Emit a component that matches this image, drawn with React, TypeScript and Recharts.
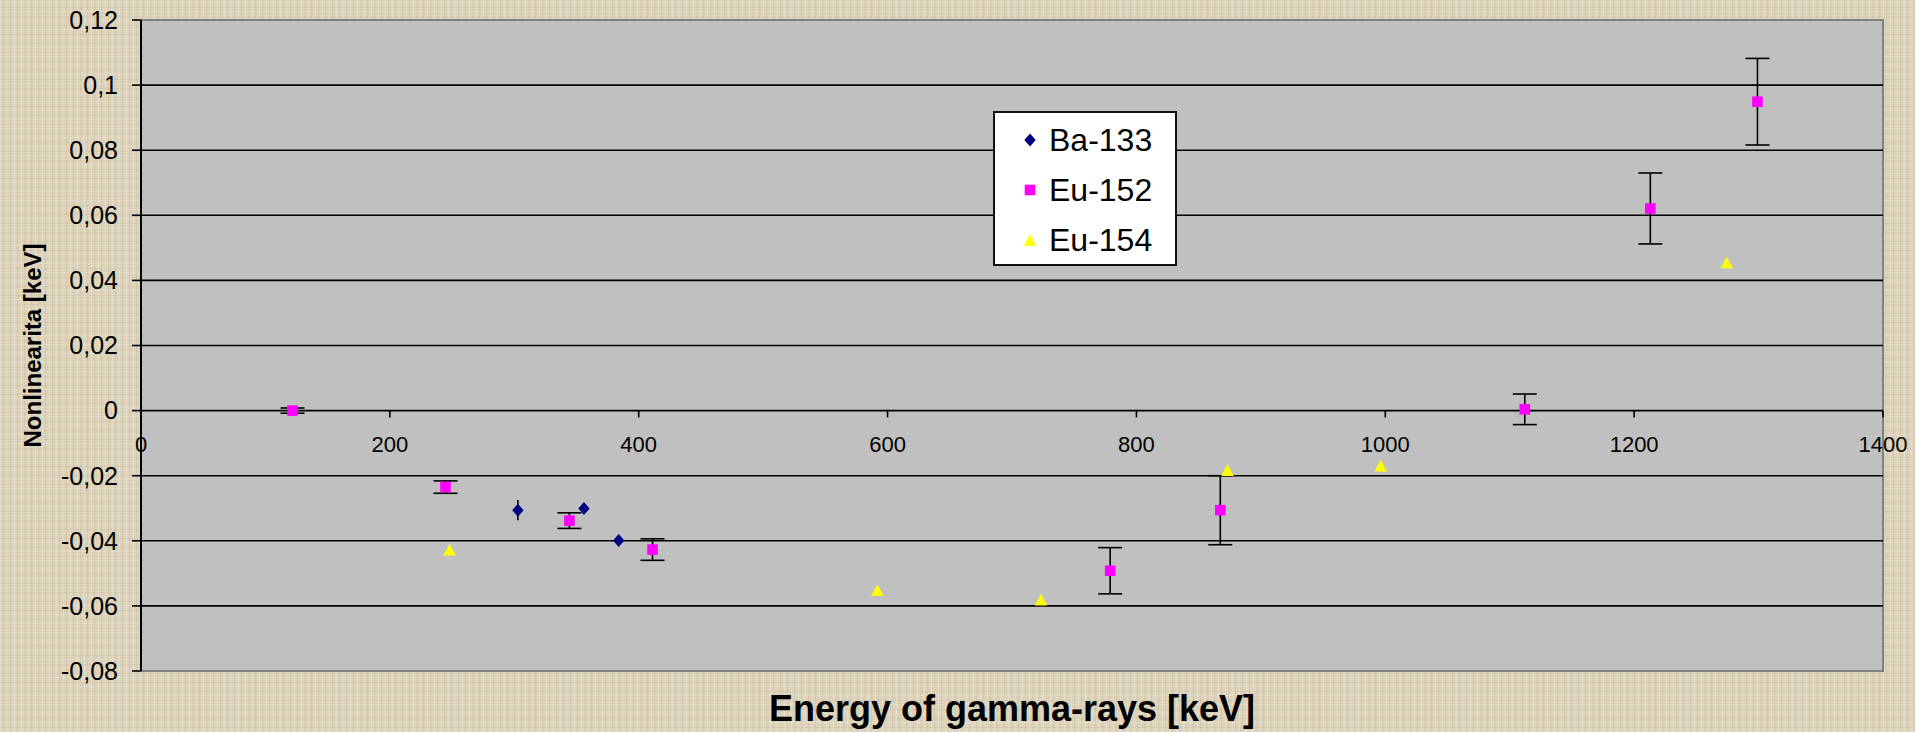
import React from "react";
import {
  ScatterChart,
  Scatter,
  XAxis,
  YAxis,
  ReferenceLine,
  ReferenceDot,
  ReferenceArea,
  ErrorBar,
  Legend,
} from "recharts";

const FONT = '"Liberation Sans", Arial, sans-serif';

const X_TICKS = [0, 200, 400, 600, 800, 1000, 1200, 1400];
const Y_TICKS = [-0.08, -0.06, -0.04, -0.02, 0, 0.02, 0.04, 0.06, 0.08, 0.1, 0.12];

// values (keV)
const BA133_ENERGY = [302.9, 356.0, 383.9];
const BA133_NONLIN = [-0.0306, -0.0301, -0.0399];
const BA133_ERR = [0.0031, 0, 0];

const EU152_ENERGY = [121.8, 244.7, 344.3, 411.1, 778.9, 867.4, 1112.1, 1213.0, 1299.1];
const EU152_NONLIN = [0, -0.0235, -0.0338, -0.0427, -0.0492, -0.0306, 0.0004, 0.0621, 0.0949];
const EU152_ERR = [0.0008, 0.0019, 0.0024, 0.0033, 0.0071, 0.0106, 0.0047, 0.0109, 0.0133];

const EU154_ENERGY = [248.0, 591.8, 723.3, 873.2, 996.3, 1274.4];
const EU154_NONLIN = [-0.0427, -0.0552, -0.0581, -0.0183, -0.0169, 0.0455];

const toRows = (xs: number[], ys: number[], es?: number[]) =>
  xs.map((x, i) => ({ energy: x, nonlin: ys[i], err: es ? es[i] : 0 }));

const ba133 = toRows(BA133_ENERGY, BA133_NONLIN, BA133_ERR);
const eu152 = toRows(EU152_ENERGY, EU152_NONLIN, EU152_ERR);
const eu154 = toRows(EU154_ENERGY, EU154_NONLIN);

const fmtY = (v: number) => String(Math.round(v * 100) / 100).replace(".", ",");

// excel-like markers
const Diamond = (p: any) => (
  <path
    d={`M${p.cx},${p.cy - 6.5}L${p.cx + 5.7},${p.cy}L${p.cx},${p.cy + 6.5}L${p.cx - 5.7},${p.cy}Z`}
    fill="#000080"
  />
);
const Square = (p: any) => (
  <rect x={p.cx - 5.3} y={p.cy - 5.3} width={10.6} height={10.6} fill="#ff00ff" />
);
const Triangle = (p: any) => (
  <path
    d={`M${p.cx},${p.cy - 5.8}L${p.cx + 6.3},${p.cy + 5.8}L${p.cx - 6.3},${p.cy + 5.8}Z`}
    fill="#ffff00"
  />
);

const LEGEND_ITEMS = [
  { name: "Ba-133", Shape: Diamond },
  { name: "Eu-152", Shape: Square },
  { name: "Eu-154", Shape: Triangle },
];

function LegendBox() {
  return (
    <div
      style={{
        boxSizing: "border-box",
        width: "100%",
        height: "100%",
        background: "#fff",
        border: "2px solid #111",
        paddingTop: 2,
        fontFamily: FONT,
        fontSize: 32,
        color: "#000",
      }}
    >
      {LEGEND_ITEMS.map(({ name, Shape }) => (
        <div key={name} style={{ display: "flex", alignItems: "center", height: 50, paddingLeft: 28, lineHeight: 1 }}>
          <svg width={14} height={14} style={{ marginRight: 12 }}>
            <Shape cx={7} cy={7} />
          </svg>
          <span>{name}</span>
        </div>
      ))}
    </div>
  );
}

export default function App() {
  return (
    <div
      style={{
        position: "absolute",
        left: 0,
        top: 0,
        width: 1915,
        height: 732,
        backgroundColor: "#ddd3ba",
        backgroundImage:
          "repeating-linear-gradient(90deg, rgba(255,255,255,0.2) 0 1px, transparent 1px 3px, rgba(110,90,50,0.08) 3px 4px, transparent 4px 7px), repeating-linear-gradient(0deg, rgba(255,255,255,0.16) 0 1px, transparent 1px 4px, rgba(110,90,50,0.07) 4px 5px, transparent 5px 9px)",
      }}
    >
      <ScatterChart width={1915} height={732} margin={{ top: 20, right: 32, bottom: 0, left: 0 }}>
        <ReferenceArea
          x1={0}
          x2={1400}
          y1={-0.08}
          y2={0.12}
          fill="#c0c0c0"
          fillOpacity={1}
          stroke="#808080"
          strokeWidth={2}
        />
        {Y_TICKS.slice(1, -1).map((v) => (
          <ReferenceLine key={`g${v}`} y={v} stroke="#000" strokeWidth={1.6} />
        ))}
        {X_TICKS.map((v) => (
          <ReferenceLine
            key={`t${v}`}
            segment={[
              { x: v, y: 0 },
              { x: v, y: -0.0021 },
            ]}
            stroke="#000"
            strokeWidth={1.6}
          />
        ))}
        {X_TICKS.map((v) => (
          <ReferenceDot
            key={`l${v}`}
            x={v}
            y={0}
            r={0}
            stroke="none"
            fill="none"
            label={{ value: String(v), position: "bottom", offset: 26, fill: "#000", fontSize: 22, fontFamily: FONT }}
          />
        ))}
        <XAxis
          type="number"
          dataKey="energy"
          domain={[0, 1400]}
          ticks={X_TICKS}
          allowDataOverflow
          height={61}
          tick={false}
          tickLine={false}
          axisLine={false}
          label={{
            content: (props: any) => {
              const vb = props.viewBox;
              return (
                <text
                  x={vb.x + vb.width / 2}
                  y={vb.y + 50}
                  textAnchor="middle"
                  fontFamily={FONT}
                  fontWeight="bold"
                  fontSize={36}
                  fill="#000"
                >
                  Energy of gamma-rays [keV]
                </text>
              );
            },
          }}
        />
        <YAxis
          type="number"
          dataKey="nonlin"
          domain={[-0.08, 0.12]}
          ticks={Y_TICKS}
          interval={0}
          allowDataOverflow
          tickFormatter={fmtY}
          width={141}
          axisLine={{ stroke: "#000", strokeWidth: 2 }}
          tickLine={{ stroke: "#000", strokeWidth: 1.6 }}
          tickSize={9}
          tickMargin={14}
          tick={{ fill: "#000", fontSize: 25, fontFamily: FONT }}
          label={{
            content: (props: any) => {
              const vb = props.viewBox;
              const cx = vb.x + 32;
              const cy = vb.y + vb.height / 2;
              return (
                <text
                  x={cx}
                  y={cy}
                  transform={`rotate(-90 ${cx} ${cy})`}
                  textAnchor="middle"
                  dominantBaseline="central"
                  fontFamily={FONT}
                  fontWeight="bold"
                  fontSize={24}
                  fill="#000"
                >
                  Nonlinearita [keV]
                </text>
              );
            },
          }}
        />
        <Scatter name="Ba-133" data={ba133} shape={Diamond} isAnimationActive={false}>
          <ErrorBar dataKey="err" direction="y" width={0} stroke="#000" strokeWidth={1.6} isAnimationActive={false} />
        </Scatter>
        <Scatter name="Eu-152" data={eu152} shape={Square} isAnimationActive={false}>
          <ErrorBar dataKey="err" direction="y" width={12} stroke="#000" strokeWidth={1.6} isAnimationActive={false} />
        </Scatter>
        <Scatter name="Eu-154" data={eu154} shape={Triangle} isAnimationActive={false} />
        <Legend
          layout="vertical"
          align="center"
          verticalAlign="middle"
          content={() => <LegendBox />}
          wrapperStyle={{ left: 993, top: 111, width: 184, height: 155, margin: 0 }}
        />
      </ScatterChart>
    </div>
  );
}
